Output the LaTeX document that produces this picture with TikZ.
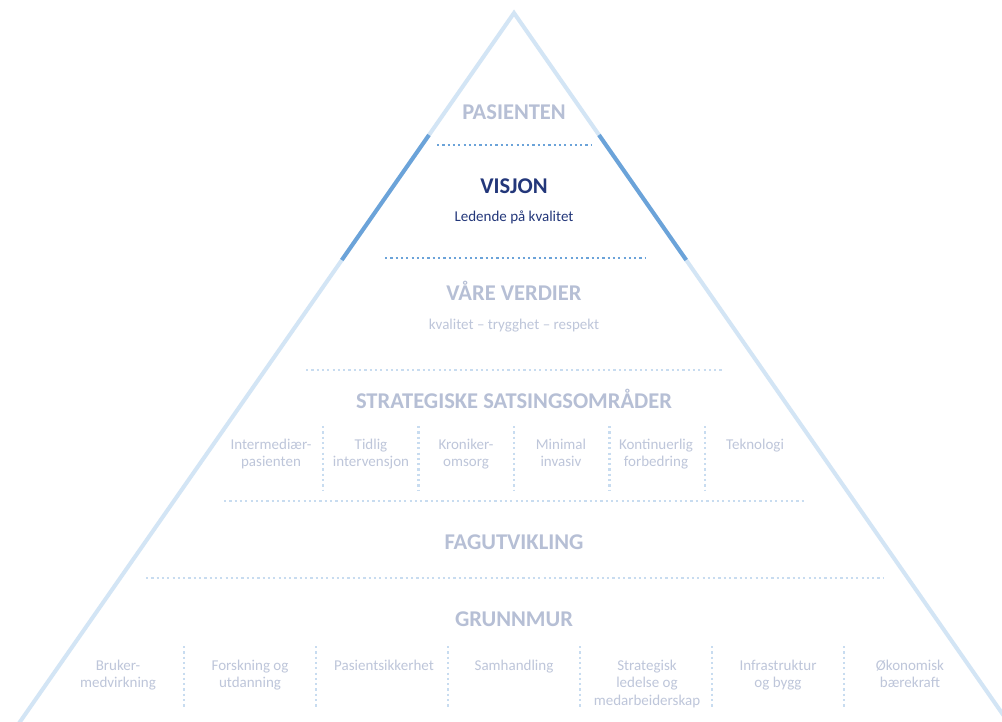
\documentclass[tikz,border=0pt]{standalone}
\usepackage{fontspec}
\setmainfont{Carlito}
\definecolor{tri}{HTML}{D3E5F5}
\definecolor{midblue}{HTML}{6BA3D9}
\definecolor{dotlight}{HTML}{C8DCF0}
\definecolor{headc}{HTML}{B6BFD5}
\definecolor{itemc}{HTML}{BEC6DA}
\definecolor{navy}{HTML}{23377A}
\begin{document}
\begin{tikzpicture}[x=1pt,y=-1pt,
  headline/.style={font=\fontsize{22.5}{26}\selectfont\bfseries, text=headc, anchor=base, inner sep=0},
  subline/.style={font=\fontsize{15}{18}\selectfont, text=itemc, anchor=base, inner sep=0},
  itemtext/.style={font=\fontsize{15}{17.5}\selectfont, text=itemc, anchor=base, inner sep=0, align=center},
  dotrule/.style={line width=2.2pt, dash pattern=on 2.2pt off 3.1pt},
  sidebar/.style={line width=4pt}]
\useasboundingbox (0,0) rectangle (1002,722);
\fill[white] (0,0) rectangle (1002,722);
% triangle
\begin{scope}
\clip (0,0) rectangle (1002,722);
\draw[tri, sidebar, line join=miter] (7.3,740) -- (514,13) -- (1020.7,740);
\end{scope}
\draw[midblue, sidebar] (429.0,135) -- (341.8,260);
\draw[midblue, sidebar] (599.0,135) -- (686.2,260);
% horizontal dotted rules
\draw[midblue, dotrule] (437,145) -- (592,145);
\draw[midblue, dotrule] (385,258) -- (645,258);
\draw[dotlight, dotrule] (306,370) -- (722,370);
\draw[dotlight, dotrule] (224,501) -- (805,501);
\draw[dotlight, dotrule] (146,578) -- (884,578);
% headings
\node[headline] (pas) at (514,120) {PASIENTEN};
\node[headline, text=navy] (vis) at (514,194) {VISJON};
\node[subline, text=navy] (led) at (514,222) {Ledende på kvalitet};
\node[headline] (ver) at (514,301) {VÅRE VERDIER};
\node[subline] (kva) at (514,330) {kvalitet – trygghet – respekt};
\node[headline] (str) at (514,408) {STRATEGISKE SATSINGSOMRÅDER};
\node[headline] (fag) at (514,549) {FAGUTVIKLING};
\node[headline] (gru) at (514,626) {GRUNNMUR};
% strategic items (base anchor = baseline of last line)
\foreach \x in {323,418.5,514,609.5,705}
  \draw[dotlight, dotrule] (\x,426) -- (\x,490);
\node[itemtext] (s1) at (271,466.5) {Intermediær-\\pasienten};
\node[itemtext] (s2) at (371,466.5) {Tidlig\\intervensjon};
\node[itemtext] (s3) at (466,466.5) {Kroniker-\\omsorg};
\node[itemtext] (s4) at (561,466.5) {Minimal\\invasiv};
\node[itemtext] (s5) at (656,466.5) {Kontinuerlig\\forbedring};
\node[itemtext] (s6) at (755,449) {Teknologi};
% foundation items
\foreach \x in {184,316,448,580,712,844}
  \draw[dotlight, dotrule] (\x,646) -- (\x,708);
\node[itemtext] (g1) at (118,687.5) {Bruker-\\medvirkning};
\node[itemtext] (g2) at (250,687.5) {Forskning og\\utdanning};
\node[itemtext] (g3) at (384,670) {Pasientsikkerhet};
\node[itemtext] (g4) at (514,670) {Samhandling};
\node[itemtext] (g5) at (647,705) {Strategisk\\ledelse og\\medarbeiderskap};
\node[itemtext] (g6) at (778,687.5) {Infrastruktur\\og bygg};
\node[itemtext] (g7) at (910,687.5) {Økonomisk\\bærekraft};
\end{tikzpicture}
\end{document}
